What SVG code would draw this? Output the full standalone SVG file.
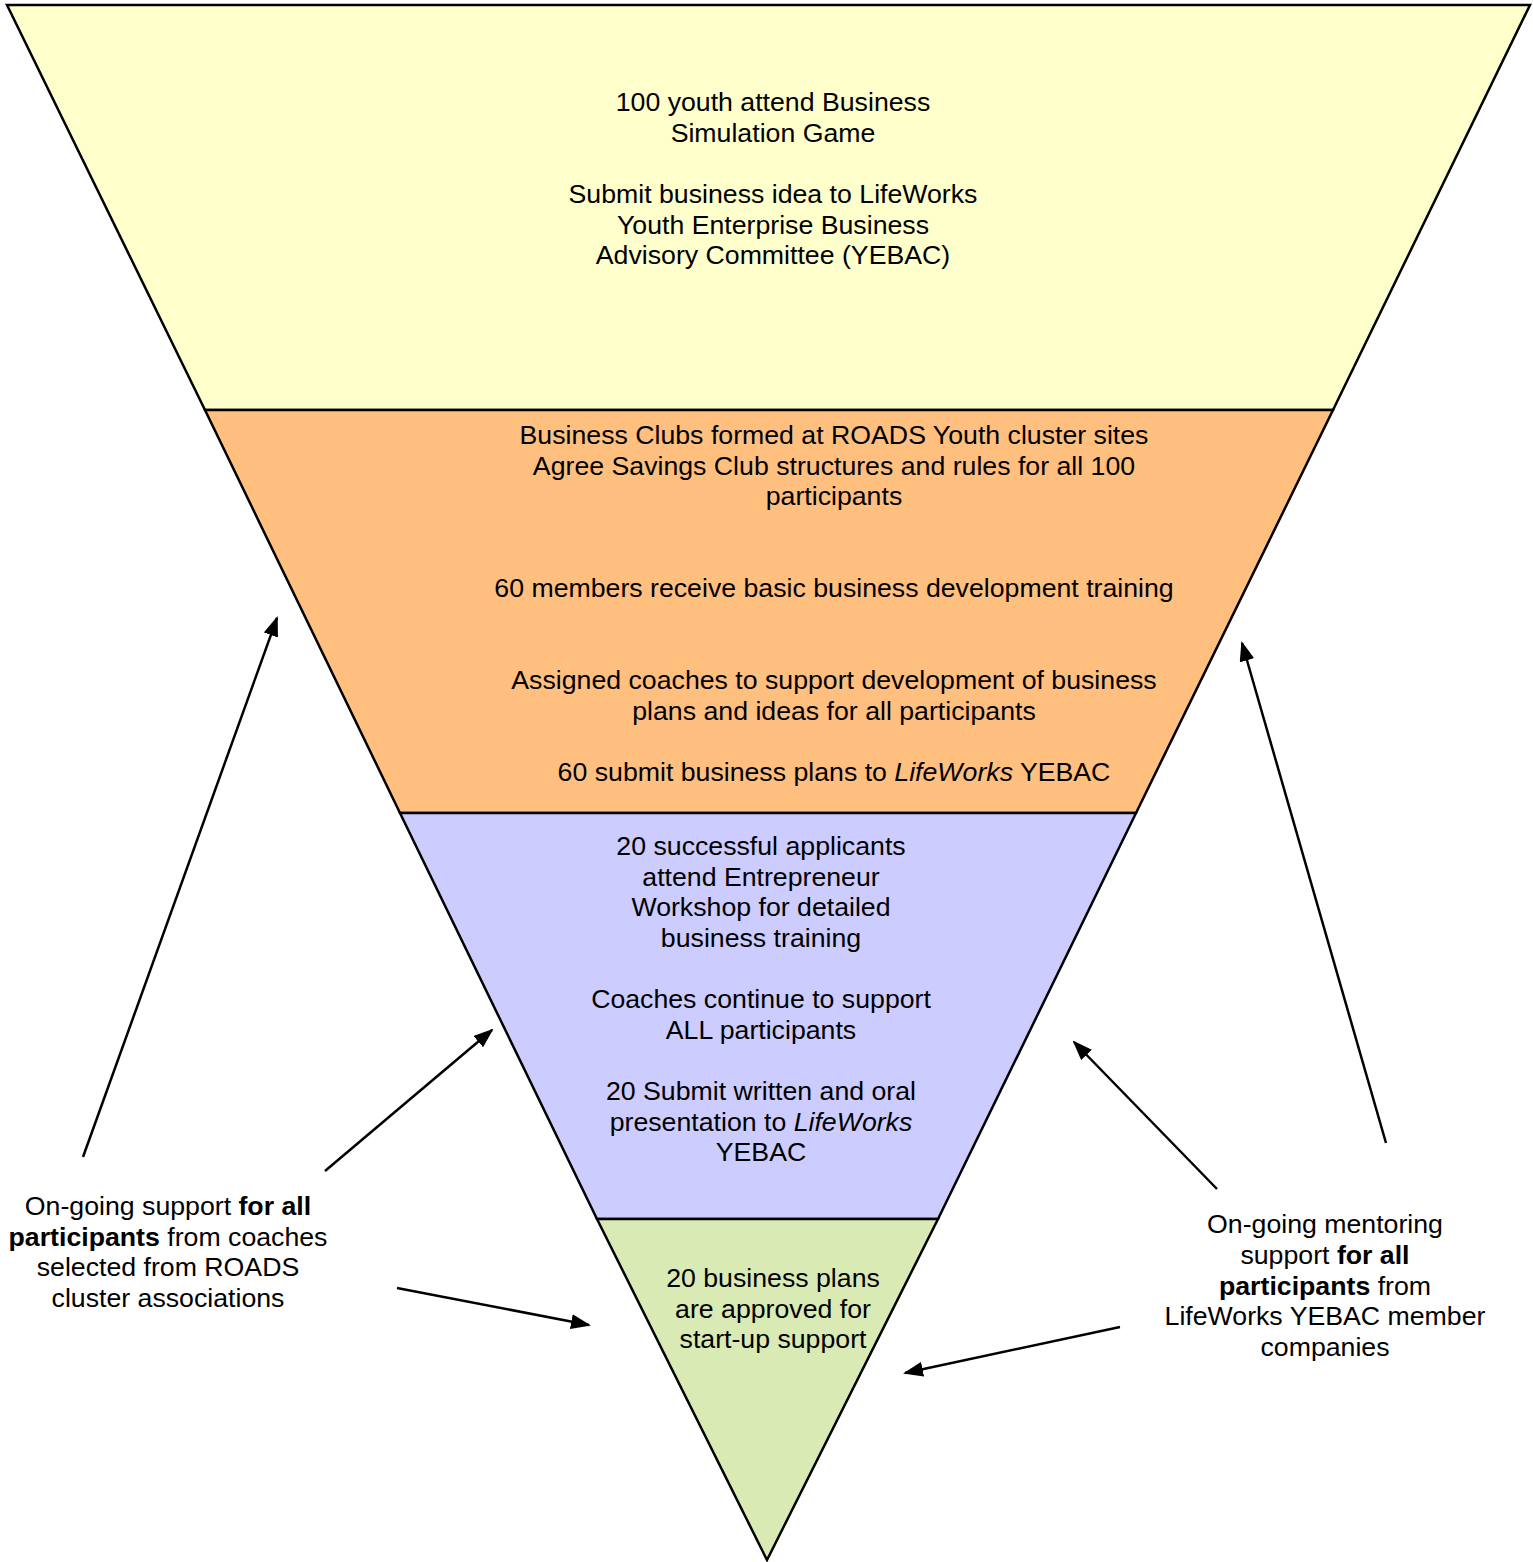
<svg xmlns="http://www.w3.org/2000/svg" width="1533" height="1562" viewBox="0 0 1533 1562">
<style>
.sec{stroke:#000;stroke-width:2.5;stroke-linejoin:miter}
text{font-family:"Liberation Sans",Arial,sans-serif;font-size:26.7px;fill:#000;text-anchor:middle}
.b{font-weight:bold}
.i{font-style:italic}
.con{stroke:#000;stroke-width:2.5;fill:none;marker-end:url(#ah)}
</style>
<defs>
<marker id="ah" viewBox="0 0 10 7.5" refX="9" refY="3.75" markerWidth="8" markerHeight="6" markerUnits="strokeWidth" orient="auto">
<path d="M0,0 L10,3.75 L0,7.5 z" fill="#000"/>
</marker>
</defs>
<rect width="1533" height="1562" fill="#fff"/>
<g id="stage1">
<polygon class="sec" fill="#FFFFCC" points="7,5 1530,5 1333,410 205,410"/>
<text x="773" y="111">100 youth attend Business</text>
<text x="773" y="142">Simulation Game</text>
<text x="773" y="203">Submit business idea to LifeWorks</text>
<text x="773" y="234">Youth Enterprise Business</text>
<text x="773" y="264">Advisory Committee (YEBAC)</text>
</g>
<g id="stage2">
<polygon class="sec" fill="#FFBF7F" points="205,410 1333,410 1136,813 400,813"/>
<text x="834" y="444">Business Clubs formed at ROADS Youth cluster sites</text>
<text x="834" y="475">Agree Savings Club structures and rules for all 100</text>
<text x="834" y="505">participants</text>
<text x="834" y="597">60 members receive basic business development training</text>
<text x="834" y="689">Assigned coaches to support development of business</text>
<text x="834" y="720">plans and ideas for all participants</text>
<text x="834" y="781">60 submit business plans to <tspan class="i">LifeWorks</tspan> YEBAC</text>
</g>
<g id="stage3">
<polygon class="sec" fill="#CCCCFF" points="400,813 1136,813 938,1219 597,1219"/>
<text x="761" y="855">20 successful applicants</text>
<text x="761" y="886">attend Entrepreneur</text>
<text x="761" y="916">Workshop for detailed</text>
<text x="761" y="947">business training</text>
<text x="761" y="1008">Coaches continue to support</text>
<text x="761" y="1039">ALL participants</text>
<text x="761" y="1100">20 Submit written and oral</text>
<text x="761" y="1131">presentation to <tspan class="i">LifeWorks</tspan></text>
<text x="761" y="1161">YEBAC</text>
</g>
<g id="stage4">
<polygon class="sec" fill="#D9EAB4" points="597,1219 938,1219 767,1560"/>
<text x="773" y="1287">20 business plans</text>
<text x="773" y="1318">are approved for</text>
<text x="773" y="1348">start-up support</text>
</g>
<g id="leftNote">
<text x="168" y="1215">On-going support <tspan class="b">for all</tspan></text>
<text x="168" y="1246"><tspan class="b">participants</tspan> from coaches</text>
<text x="168" y="1276">selected from ROADS</text>
<text x="168" y="1307">cluster associations</text>
</g>
<g id="rightNote">
<text x="1325" y="1233">On-going mentoring</text>
<text x="1325" y="1264">support <tspan class="b">for all</tspan></text>
<text x="1325" y="1295"><tspan class="b">participants</tspan> from</text>
<text x="1325" y="1325">LifeWorks YEBAC member</text>
<text x="1325" y="1356">companies</text>
</g>
<g id="connectors">
<line class="con" x1="83" y1="1157" x2="277" y2="618"/>
<line class="con" x1="325" y1="1171" x2="492" y2="1030"/>
<line class="con" x1="397" y1="1288" x2="589" y2="1325"/>
<line class="con" x1="1217" y1="1189" x2="1074" y2="1042"/>
<line class="con" x1="1386" y1="1143" x2="1242" y2="643"/>
<line class="con" x1="1120" y1="1327" x2="905" y2="1373"/>
</g>
</svg>
